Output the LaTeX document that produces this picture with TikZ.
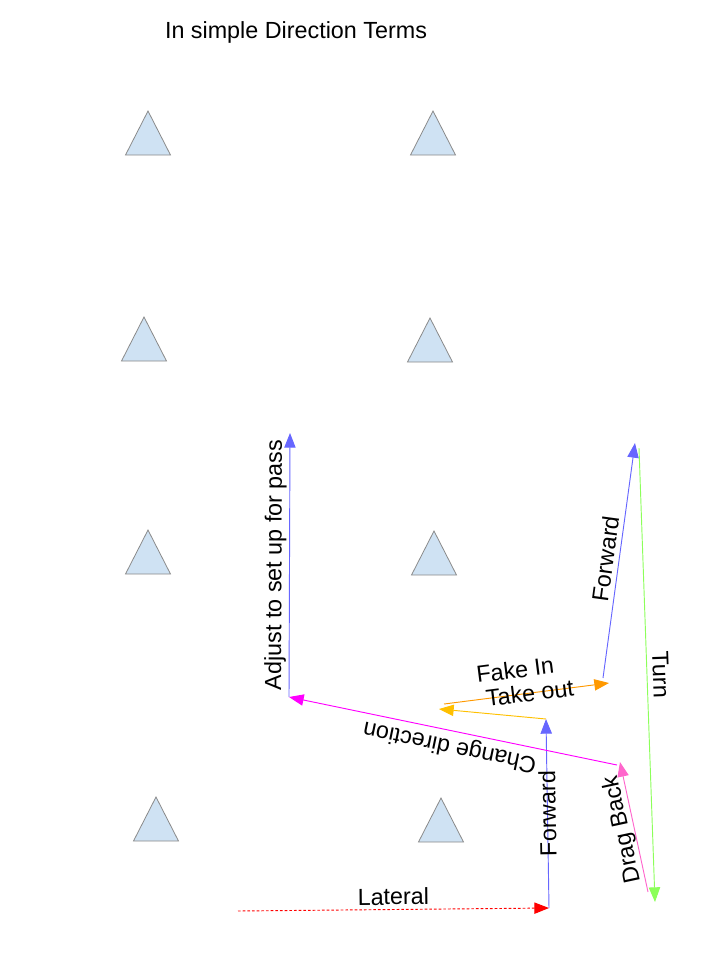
\documentclass[tikz,border=0pt]{standalone}
\usepackage{fontspec}
\setmainfont{Liberation Sans}
\usetikzlibrary{arrows.meta}
\definecolor{conefill}{HTML}{CFE2F3}
\definecolor{conegray}{HTML}{8A8A8A}
\definecolor{runblue}{RGB}{102,102,255}
\definecolor{takeyellow}{RGB}{255,192,0}
\definecolor{fakeorange}{RGB}{255,153,0}
\definecolor{turngreen}{RGB}{140,255,90}
\definecolor{dragpink}{RGB}{255,102,204}
\definecolor{changemag}{RGB}{255,0,255}
\begin{document}
\begin{tikzpicture}[x=0.75pt, y=-0.75pt,
        cone/.style={draw=conegray, fill=conefill, line width=0.6pt},
        move/.style={line width=0.7pt, -{Triangle[length=11pt, width=8.5pt]}},
        lbl/.style={text=black, font=\fontsize{17.5}{20}\selectfont, inner sep=2pt, sloped, allow upside down}]
    \useasboundingbox (0,0) rectangle (707,972);
    \node[font=\fontsize{17.5}{20}\selectfont] (title) at (296,32) {In simple Direction Terms};

    % cones
    \foreach \x/\y in {148/111, 433/111, 144/317, 430/318, 148/530, 434/531, 156/797, 441/798} {
        \draw[cone] (\x,\y) -- ++(-22.5,44) -- ++(45,0) -- cycle;
    }

    % path points
    \coordinate (p0) at (238,911);
    \coordinate (p1) at (549,908);
    \coordinate (p2) at (546,719);
    \coordinate (p3) at (439,709);
    \coordinate (p4) at (444,704);
    \coordinate (p5) at (609,683);
    \coordinate (p6) at (603,678);
    \coordinate (p7) at (635,443);
    \coordinate (p8) at (639,448);
    \coordinate (p9) at (655,902);
    \coordinate (p10) at (648,892);
    \coordinate (p11) at (620,762);
    \coordinate (p12) at (617,765);
    \coordinate (p13) at (289,697);
    \coordinate (p14) at (290,433);

    \draw[move, red, dash pattern=on 2pt off 1.5pt] (p0) -- node[lbl, above=1pt] {Lateral} (p1);
    \draw[move, runblue] (p1) -- node[lbl] {Forward} (p2);
    \draw[move, takeyellow] (p2) -- (p3);
    \draw[move, fakeorange] (p4) -- node[lbl, pos=0.45, above=10pt] {Fake In} node[lbl, pos=0.52] {Take out} (p5);
    \draw[move, runblue] (p6) -- node[lbl, above=1.5pt] {Forward} (p7);
    \draw[move, turngreen] (p8) -- node[lbl, above=2pt] {Turn} (p9);
    \draw[move, dragpink] (p10) -- node[lbl, above=-2pt] {Drag Back} (p11);
    \draw[move, changemag] (p12) -- node[lbl, above=1pt] {Change direction} (p13);
    \draw[move, runblue] (p13) -- node[lbl, above=0pt] {Adjust to set up for pass} (p14);
\end{tikzpicture}
\end{document}
